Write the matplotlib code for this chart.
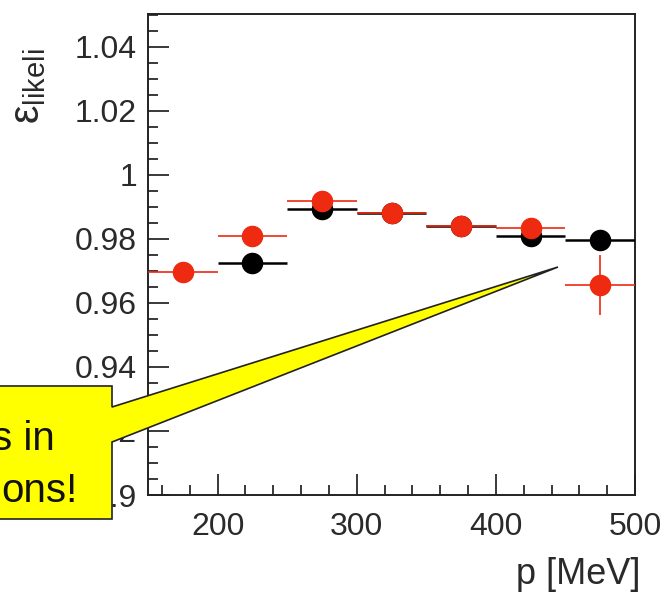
import matplotlib
matplotlib.use("Agg")
import matplotlib.pyplot as plt
from matplotlib.patches import Polygon
from matplotlib.ticker import MultipleLocator, FuncFormatter

plt.rcParams['font.family'] = ['Liberation Sans', 'DejaVu Sans']

bin_half = 25  # MeV

# black series (no point in the first bin)
p_black = [225, 275, 325, 375, 425, 475]
eff_black = [0.9724, 0.9895, 0.988, 0.984, 0.981, 0.9796]
err_black = [0.0015, 0.0015, 0.001, 0.001, 0.0015, 0.003]

# red series, drawn on top
p_red = [175, 225, 275, 325, 375, 425, 475]
eff_red = [0.9698, 0.9808, 0.992, 0.988, 0.984, 0.9833, 0.9656]
err_red = [0.001, 0.0015, 0.0015, 0.001, 0.001, 0.0015, 0.0093]

W, H = 662, 594
fig = plt.figure(figsize=(W / 100, H / 100), dpi=100)

def fx(px):
    return px / W

def fy(py):
    return 1 - py / H

ax = fig.add_axes([fx(148), fy(495), fx(635) - fx(148), fy(14) - fy(495)])

ax.errorbar(p_black, eff_black, xerr=bin_half, yerr=err_black, fmt='o',
            color='black', ms=14.5, elinewidth=1.8, capsize=0, zorder=3)
ax.errorbar(p_red, eff_red, xerr=bin_half, yerr=err_red, fmt='o',
            color='#ee2a10', ms=14.5, elinewidth=1.2, capsize=0, zorder=4)

ax.set_xlim(150, 500)
ax.set_ylim(0.90, 1.0503)
ax.xaxis.set_major_locator(MultipleLocator(100))
ax.xaxis.set_minor_locator(MultipleLocator(20))
ax.yaxis.set_major_locator(MultipleLocator(0.02))
ax.yaxis.set_minor_locator(MultipleLocator(0.005))
ax.yaxis.set_major_formatter(FuncFormatter(lambda v, pos: '%g' % round(v, 3)))
ax.tick_params(which='both', direction='in', top=False, right=False,
               labelsize=23, colors='#2a2a2a', width=1.3)
ax.tick_params(axis='x', pad=12)
ax.tick_params(axis='y', pad=8)
ax.tick_params(which='major', length=15)
ax.tick_params(which='minor', length=7.5)
for s in ax.spines.values():
    s.set_linewidth(1.4)
    s.set_color('#222222')

fig.text(fx(641), fy(574), 'p [MeV]', ha='right', va='center',
         fontsize=26, color='#2a2a2a')
fig.text(fx(28), fy(86), r'$\mathregular{ε_{likeli}}$', rotation=90,
         ha='center', va='center', fontsize=30, color='#2a2a2a')

# yellow callout box with its pointer
call = [(-10, 386), (112, 386), (112, 407), (558, 267), (112, 442),
        (112, 519), (-10, 519)]
fig.patches.append(Polygon([(fx(x), fy(y)) for x, y in call], closed=True,
                           transform=fig.transFigure, facecolor='#ffff00',
                           edgecolor='#222222', linewidth=1.2, zorder=10))
fig.text(fx(55), fy(450), 's in', ha='right', va='baseline', fontsize=29,
         color='#111111', zorder=11)
fig.text(fx(78), fy(502), 'ons!', ha='right', va='baseline', fontsize=29,
         color='#111111', zorder=11)

fig.savefig('out.png', dpi=100, facecolor='white')
